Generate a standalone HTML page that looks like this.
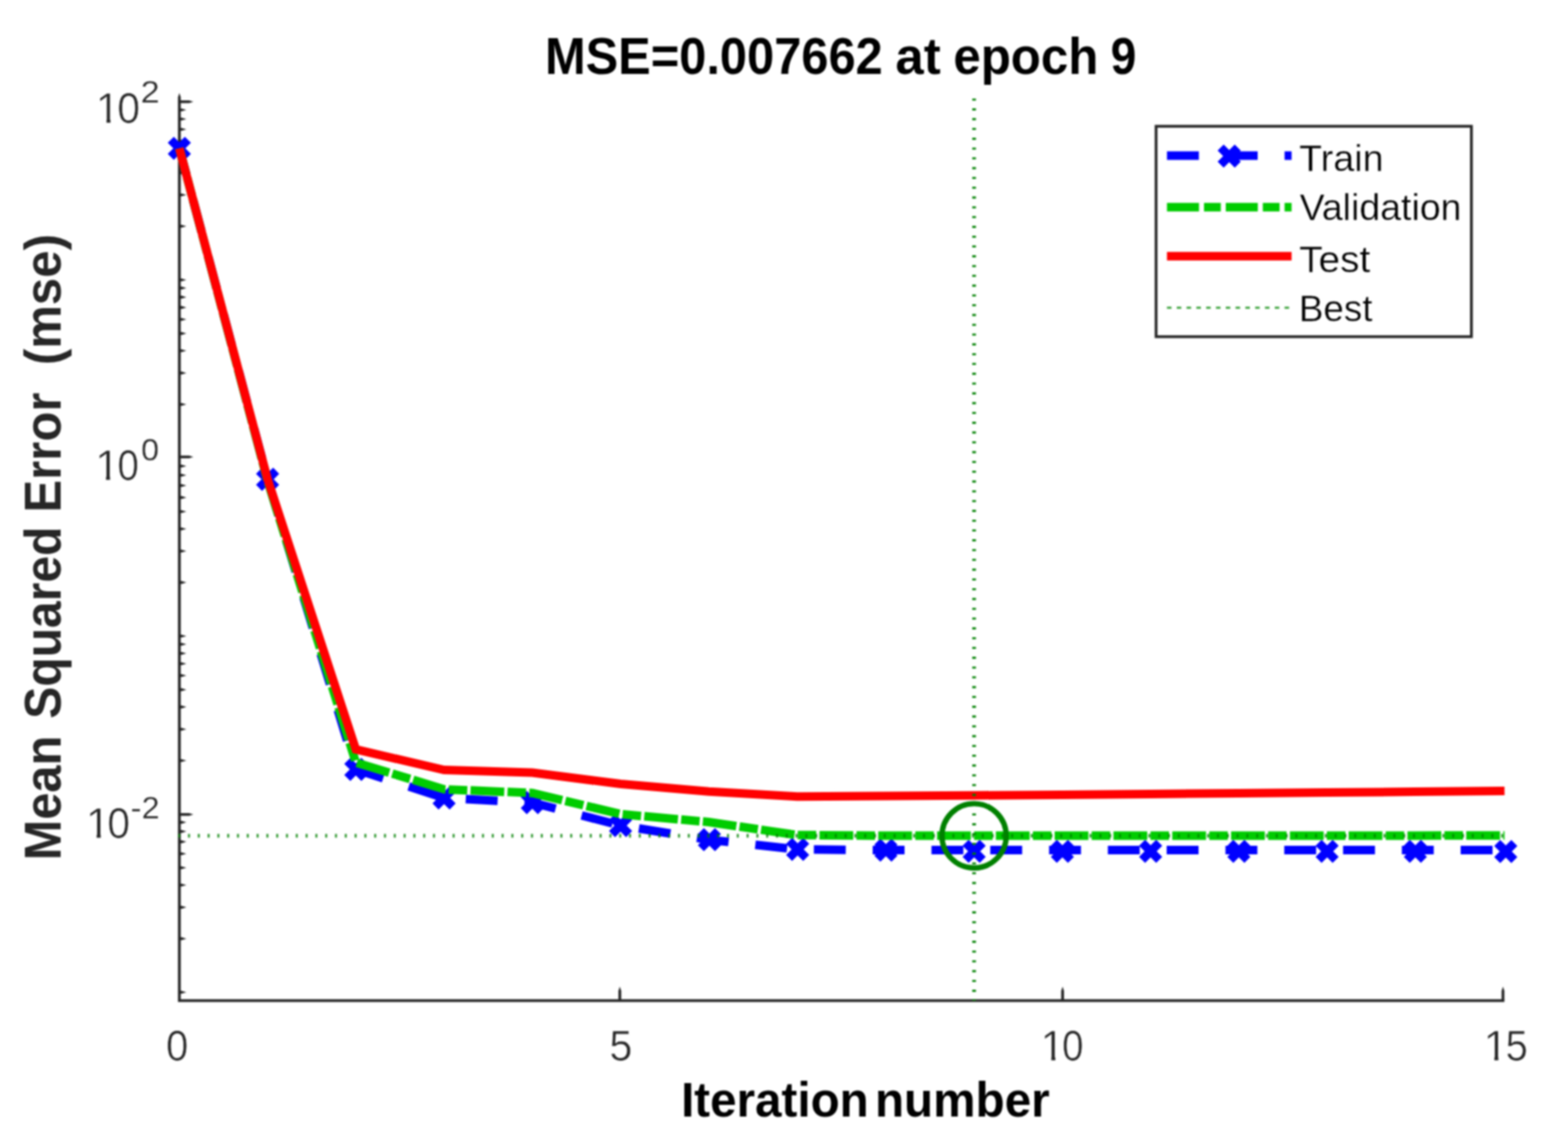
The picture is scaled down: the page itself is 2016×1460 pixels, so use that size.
<!DOCTYPE html>
<html lang="en"><head><meta charset="utf-8">
<title>MSE=0.007662 at epoch 9</title>
<style>
html,body{margin:0;padding:0;background:#fff;}
body{width:2016px;height:1460px;overflow:hidden;font-family:"Liberation Sans", Arial, Helvetica, sans-serif;}
svg{display:block;}
text{font-family:"Liberation Sans", Arial, Helvetica, sans-serif;white-space:pre;}
.tk{fill:#262626;font-size:55.5px;stroke:#fff;stroke-width:0.7px;}
.ex{font-size:41.5px;stroke-width:0.3px;}
.lb{fill:#262626;font-weight:bold;font-size:66.5px;}
.xl{fill:#000;font-weight:bold;font-size:62.5px;}
.ti{fill:#000;font-weight:bold;font-size:66px;}
.lg{fill:#000;font-size:49px;stroke:#fff;stroke-width:0.4px;}
</style></head><body>
<svg width="2016" height="1460" viewBox="0 0 2016 1460" style="filter:blur(0.8px)">
<rect x="-20" y="-20" width="2056" height="1500" fill="#ffffff"/>
<g fill="#262626" stroke="none">
<polygon points="228.80,1287.80 228.80,125.10 230.60,119.60 232.40,125.10 232.40,1284.20 1934.20,1284.20 1934.20,1287.80"/>
<polygon points="795.10,1286.00 795.10,1273.50 796.90,1268.00 798.70,1273.50 798.70,1286.00"/>
<polygon points="1364.40,1286.00 1364.40,1273.50 1366.20,1268.00 1368.00,1273.50 1368.00,1286.00"/>
<polygon points="1930.60,1286.00 1930.60,1273.50 1932.40,1268.00 1934.20,1273.50 1934.20,1286.00"/>
<polygon points="230.60,1273.30 233.60,1273.50 239.60,1275.30 233.60,1277.10 230.60,1277.30"/>
<polygon points="230.60,1204.39 233.60,1204.59 239.60,1206.39 233.60,1208.19 230.60,1208.39"/>
<polygon points="230.60,1164.09 233.60,1164.29 239.60,1166.09 233.60,1167.89 230.60,1168.09"/>
<polygon points="230.60,1135.49 233.60,1135.69 239.60,1137.49 233.60,1139.29 230.60,1139.49"/>
<polygon points="230.60,1113.31 233.60,1113.51 239.60,1115.31 233.60,1117.11 230.60,1117.31"/>
<polygon points="230.60,1095.18 233.60,1095.38 239.60,1097.18 233.60,1098.98 230.60,1099.18"/>
<polygon points="230.60,1079.86 233.60,1080.06 239.60,1081.86 233.60,1083.66 230.60,1083.86"/>
<polygon points="230.60,1066.58 233.60,1066.78 239.60,1068.58 233.60,1070.38 230.60,1070.58"/>
<polygon points="230.60,1054.87 233.60,1055.07 239.60,1056.87 233.60,1058.67 230.60,1058.87"/>
<polygon points="230.60,1044.90 243.10,1044.90 248.60,1046.70 243.10,1048.50 230.60,1048.50"/>
<polygon points="230.60,975.49 233.60,975.69 239.60,977.49 233.60,979.29 230.60,979.49"/>
<polygon points="230.60,935.19 233.60,935.39 239.60,937.19 233.60,938.99 230.60,939.19"/>
<polygon points="230.60,906.59 233.60,906.79 239.60,908.59 233.60,910.39 230.60,910.59"/>
<polygon points="230.60,884.41 233.60,884.61 239.60,886.41 233.60,888.21 230.60,888.41"/>
<polygon points="230.60,866.28 233.60,866.48 239.60,868.28 233.60,870.08 230.60,870.28"/>
<polygon points="230.60,850.96 233.60,851.16 239.60,852.96 233.60,854.76 230.60,854.96"/>
<polygon points="230.60,837.68 233.60,837.88 239.60,839.68 233.60,841.48 230.60,841.68"/>
<polygon points="230.60,825.97 233.60,826.17 239.60,827.97 233.60,829.77 230.60,829.97"/>
<polygon points="230.60,815.50 233.60,815.70 239.60,817.50 233.60,819.30 230.60,819.50"/>
<polygon points="230.60,746.59 233.60,746.79 239.60,748.59 233.60,750.39 230.60,750.59"/>
<polygon points="230.60,706.29 233.60,706.49 239.60,708.29 233.60,710.09 230.60,710.29"/>
<polygon points="230.60,677.69 233.60,677.89 239.60,679.69 233.60,681.49 230.60,681.69"/>
<polygon points="230.60,655.51 233.60,655.71 239.60,657.51 233.60,659.31 230.60,659.51"/>
<polygon points="230.60,637.38 233.60,637.58 239.60,639.38 233.60,641.18 230.60,641.38"/>
<polygon points="230.60,622.06 233.60,622.26 239.60,624.06 233.60,625.86 230.60,626.06"/>
<polygon points="230.60,608.78 233.60,608.98 239.60,610.78 233.60,612.58 230.60,612.78"/>
<polygon points="230.60,597.07 233.60,597.27 239.60,599.07 233.60,600.87 230.60,601.07"/>
<polygon points="230.60,585.50 243.10,585.50 248.60,587.30 243.10,589.10 230.60,589.10"/>
<polygon points="230.60,517.69 233.60,517.89 239.60,519.69 233.60,521.49 230.60,521.69"/>
<polygon points="230.60,477.39 233.60,477.59 239.60,479.39 233.60,481.19 230.60,481.39"/>
<polygon points="230.60,448.79 233.60,448.99 239.60,450.79 233.60,452.59 230.60,452.79"/>
<polygon points="230.60,426.61 233.60,426.81 239.60,428.61 233.60,430.41 230.60,430.61"/>
<polygon points="230.60,408.48 233.60,408.68 239.60,410.48 233.60,412.28 230.60,412.48"/>
<polygon points="230.60,393.16 233.60,393.36 239.60,395.16 233.60,396.96 230.60,397.16"/>
<polygon points="230.60,379.88 233.60,380.08 239.60,381.88 233.60,383.68 230.60,383.88"/>
<polygon points="230.60,368.17 233.60,368.37 239.60,370.17 233.60,371.97 230.60,372.17"/>
<polygon points="230.60,357.70 233.60,357.90 239.60,359.70 233.60,361.50 230.60,361.70"/>
<polygon points="230.60,288.79 233.60,288.99 239.60,290.79 233.60,292.59 230.60,292.79"/>
<polygon points="230.60,248.49 233.60,248.69 239.60,250.49 233.60,252.29 230.60,252.49"/>
<polygon points="230.60,219.89 233.60,220.09 239.60,221.89 233.60,223.69 230.60,223.89"/>
<polygon points="230.60,197.71 233.60,197.91 239.60,199.71 233.60,201.51 230.60,201.71"/>
<polygon points="230.60,179.58 233.60,179.78 239.60,181.58 233.60,183.38 230.60,183.58"/>
<polygon points="230.60,164.26 233.60,164.46 239.60,166.26 233.60,168.06 230.60,168.26"/>
<polygon points="230.60,150.98 233.60,151.18 239.60,152.98 233.60,154.78 230.60,154.98"/>
<polygon points="230.60,139.27 233.60,139.47 239.60,141.27 233.60,143.07 230.60,143.27"/>
<polygon points="230.60,129.00 243.10,129.00 248.60,130.80 243.10,132.60 230.60,132.60"/>
</g>
<g fill="none" stroke-linejoin="miter" stroke-linecap="butt" stroke-width="11.0">
<polyline points="230.60,190.70 344.05,616.00 457.51,988.80 570.96,1025.50 684.41,1031.50 797.87,1061.00 911.32,1079.20 1024.77,1091.70 1138.23,1092.60 1251.68,1092.60 1365.13,1092.60 1478.59,1092.60 1592.04,1092.60 1705.49,1092.60 1818.95,1092.60 1934.40,1092.60" stroke="#0000ff" stroke-dasharray="41.0 34.60" stroke-dashoffset="5.79"/>
<path d="M219.60,179.70 L241.60,201.70 M219.60,201.70 L241.60,179.70 M333.05,605.00 L355.05,627.00 M333.05,627.00 L355.05,605.00 M446.51,977.80 L468.51,999.80 M446.51,999.80 L468.51,977.80 M559.96,1014.50 L581.96,1036.50 M559.96,1036.50 L581.96,1014.50 M673.41,1020.50 L695.41,1042.50 M673.41,1042.50 L695.41,1020.50 M786.87,1050.00 L808.87,1072.00 M786.87,1072.00 L808.87,1050.00 M901.12,1068.20 L923.12,1090.20 M901.12,1090.20 L923.12,1068.20 M1014.57,1080.70 L1036.57,1102.70 M1014.57,1102.70 L1036.57,1080.70 M1128.03,1081.60 L1150.03,1103.60 M1128.03,1103.60 L1150.03,1081.60 M1241.48,1083.20 L1263.48,1105.20 M1241.48,1105.20 L1263.48,1083.20 M1354.93,1083.20 L1376.93,1105.20 M1354.93,1105.20 L1376.93,1083.20 M1468.39,1083.20 L1490.39,1105.20 M1468.39,1105.20 L1490.39,1083.20 M1581.84,1083.20 L1603.84,1105.20 M1581.84,1105.20 L1603.84,1083.20 M1695.29,1083.20 L1717.29,1105.20 M1695.29,1105.20 L1717.29,1083.20 M1808.75,1083.20 L1830.75,1105.20 M1808.75,1105.20 L1830.75,1083.20 M1925.00,1083.30 L1947.00,1105.30 M1925.00,1105.30 L1947.00,1083.30" stroke="#0000ff"/>
<polyline points="230.60,190.70 344.05,618.00 457.51,980.00 570.96,1014.40 684.41,1019.20 797.87,1046.30 911.32,1056.50 1024.77,1073.20 1138.23,1074.00 1251.68,1074.00 1365.13,1074.00 1478.59,1074.00 1592.04,1074.00 1705.49,1074.00 1818.95,1073.90 1934.40,1073.80" stroke="#00cc00" stroke-dasharray="43.4 4.2 23.8 4.20" stroke-dashoffset="8.76"/>
<polyline points="230.60,190.70 344.05,616.00 457.51,963.20 570.96,989.50 684.41,993.10 797.87,1007.50 911.32,1017.20 1024.77,1023.80 1138.23,1022.90 1251.68,1022.30 1365.13,1021.40 1478.59,1020.40 1592.04,1019.50 1705.49,1018.50 1818.95,1017.60 1934.40,1016.60" stroke="#ff0000"/>
</g>
<g fill="none" stroke="#008000" stroke-width="3.6">
<line x1="229.10" y1="1074.2" x2="1934.40" y2="1074.2" stroke-dasharray="2.6 10" stroke-width="4.8" stroke-opacity="0.82"/>
<line x1="1252.4" y1="126.70" x2="1252.4" y2="1286.00" stroke-dasharray="2.6 9.986" stroke-width="4.8"/>
<circle cx="1252.4" cy="1074.2" r="41.3" stroke-width="6.9"/>
</g>
<rect x="1486.4" y="162.3" width="405.40" height="270.40" fill="#fff" stroke="#262626" stroke-width="3.6"/>
<g fill="none" stroke-linecap="butt" stroke-width="11.0">
<line x1="1500.4" y1="200" x2="1660.6" y2="200" stroke="#0000ff" stroke-dasharray="41.0 34.60"/>
<path d="M1569.4,189.6 L1591.4,211.6 M1569.4,211.6 L1591.4,189.6" stroke="#0000ff"/>
<line x1="1500.4" y1="266.2" x2="1660.6" y2="266.2" stroke="#00cc00" stroke-dasharray="41.2 6.4 21.6 6.4"/>
<line x1="1500.4" y1="329.3" x2="1660.6" y2="329.3" stroke="#ff0000"/>
<line x1="1500.4" y1="395.5" x2="1660.6" y2="395.5" stroke="#4daa4d" stroke-width="3.0" stroke-dasharray="5.8 6.8"/>
</g>
<text class="lg" y="220.3"><tspan x="1670.33" textLength="108.48" lengthAdjust="spacingAndGlyphs">Train</tspan></text>
<text class="lg" y="282.9"><tspan x="1671.06" textLength="207.92" lengthAdjust="spacingAndGlyphs">Validation</tspan></text>
<text class="lg" y="349.6"><tspan x="1670.30" textLength="91.45" lengthAdjust="spacingAndGlyphs">Test</tspan></text>
<text class="lg" y="412.8"><tspan x="1669.92" textLength="94.67" lengthAdjust="spacingAndGlyphs">Best</tspan></text>
<text class="tk" y="1363.4"><tspan x="213.55" textLength="28.57" lengthAdjust="spacingAndGlyphs">0</tspan></text>
<text class="tk" y="1363.4"><tspan x="783.48" textLength="29.51" lengthAdjust="spacingAndGlyphs">5</tspan></text>
<clipPath id="c1"><rect x="0" y="1283.40" width="2016" height="74.17"/><rect x="1351.72" y="1357.07" width="5.16" height="8.83"/><rect x="1367.30" y="1357.07" width="400" height="13.83"/></clipPath>
<text class="tk" y="1363.4" clip-path="url(#c1)"><tspan x="1337.86" textLength="30.87" lengthAdjust="spacingAndGlyphs">1</tspan><tspan x="1365.51" textLength="27.63" lengthAdjust="spacingAndGlyphs">0</tspan></text>
<clipPath id="c2"><rect x="0" y="1283.40" width="2016" height="74.17"/><rect x="1921.32" y="1357.07" width="5.16" height="8.83"/><rect x="1937.70" y="1357.07" width="400" height="13.83"/></clipPath>
<text class="tk" y="1363.4" clip-path="url(#c2)"><tspan x="1907.46" textLength="30.87" lengthAdjust="spacingAndGlyphs">1</tspan><tspan x="1935.85" textLength="28.57" lengthAdjust="spacingAndGlyphs">5</tspan></text>
<clipPath id="c3"><rect x="0" y="77.60" width="2016" height="74.17"/><rect x="136.92" y="151.27" width="5.16" height="8.83"/><rect x="152.60" y="151.27" width="400" height="13.83"/></clipPath>
<text class="tk" y="157.6" clip-path="url(#c3)"><tspan x="123.06" textLength="30.87" lengthAdjust="spacingAndGlyphs">1</tspan><tspan x="150.69" textLength="29.27" lengthAdjust="spacingAndGlyphs">0</tspan><tspan x="180.79" textLength="24.57" lengthAdjust="spacingAndGlyphs" class="ex" y="131.8">2</tspan></text>
<clipPath id="c4"><rect x="0" y="537.40" width="2016" height="74.17"/><rect x="136.32" y="611.07" width="5.16" height="8.83"/><rect x="152.70" y="611.07" width="400" height="13.83"/></clipPath>
<text class="tk" y="617.4" clip-path="url(#c4)"><tspan x="122.46" textLength="30.87" lengthAdjust="spacingAndGlyphs">1</tspan><tspan x="150.92" textLength="27.52" lengthAdjust="spacingAndGlyphs">0</tspan><tspan x="181.45" textLength="22.95" lengthAdjust="spacingAndGlyphs" class="ex" y="591.6">0</tspan></text>
<clipPath id="c5"><rect x="0" y="996.60" width="2016" height="74.17"/><rect x="124.32" y="1070.27" width="5.16" height="8.83"/><rect x="139.90" y="1070.27" width="400" height="13.83"/></clipPath>
<text class="tk" y="1076.6" clip-path="url(#c5)"><tspan x="110.46" textLength="30.87" lengthAdjust="spacingAndGlyphs">1</tspan><tspan x="138.00" textLength="29.16" lengthAdjust="spacingAndGlyphs">0</tspan><tspan x="168.02" textLength="37.13" lengthAdjust="spacingAndGlyphs" class="ex" y="1051.6">-2</tspan></text>
<text class="ti" y="94.5"><tspan x="700.72" textLength="434.22" lengthAdjust="spacingAndGlyphs">MSE=0.007662</tspan> <tspan x="1151.34" textLength="58.09" lengthAdjust="spacingAndGlyphs">at</tspan> <tspan x="1225.67" textLength="186.53" lengthAdjust="spacingAndGlyphs">epoch</tspan> <tspan x="1427.92" textLength="33.03" lengthAdjust="spacingAndGlyphs">9</tspan></text>
<text class="xl" y="1435.2"><tspan x="875.63" textLength="241.24" lengthAdjust="spacingAndGlyphs">Iteration</tspan> <tspan x="1124.91" textLength="224.82" lengthAdjust="spacingAndGlyphs">number</tspan></text>
<text class="lb" transform="rotate(-90)" y="78.1"><tspan x="-1105.67" textLength="160.11" lengthAdjust="spacingAndGlyphs">Mean</tspan> <tspan x="-923.75" textLength="247.03" lengthAdjust="spacingAndGlyphs">Squared</tspan> <tspan x="-658.80" textLength="154.27" lengthAdjust="spacingAndGlyphs">Error</tspan>  <tspan x="-469.36" textLength="168.57" lengthAdjust="spacingAndGlyphs">(mse)</tspan></text>
</svg>
</body></html>
